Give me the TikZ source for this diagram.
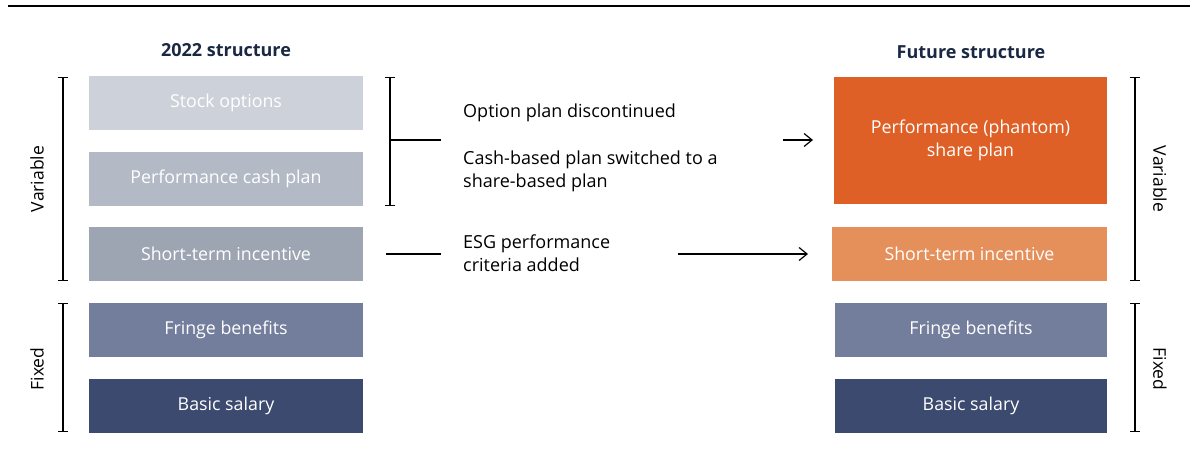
\documentclass[tikz,border=0pt]{standalone}
\usepackage{fontspec}
\setmainfont{Open Sans}
\usetikzlibrary{arrows.meta}
\definecolor{cStock}{HTML}{CDD2DA}
\definecolor{cCash}{HTML}{B3B9C5}
\definecolor{cSTI}{HTML}{9DA5B2}
\definecolor{cFringe}{HTML}{737D9C}
\definecolor{cBasic}{HTML}{3B4A6E}
\definecolor{cPhantom}{HTML}{DE6027}
\definecolor{cSTIr}{HTML}{E58F5A}
\definecolor{cTitle}{HTML}{1A2844}
\tikzset{
  blk/.style={draw=none, minimum width=274pt, minimum height=54pt, inner sep=0pt,
    text=white, font=\fontsize{17.8}{23}\selectfont, align=center},
  ttl/.style={font=\bfseries\fontsize{18}{22}\selectfont, text=cTitle},
  note/.style={font=\fontsize{18}{23.5}\selectfont, align=left, anchor=west, inner sep=0pt, text=black},
  side/.style={font=\fontsize{17.5}{21}\selectfont, inner sep=0pt},
  brk/.style={line width=1.2pt, {Bar[width=10pt]}-{Bar[width=10pt]}},
  ln/.style={line width=1.2pt},
  arr/.style={line width=1.2pt, -{Straight Barb[length=8pt,width=13pt,line width=1.2pt]}}
}
\begin{document}
\begin{tikzpicture}[x=1pt,y=-1pt]
\useasboundingbox (0,0) rectangle (1190,470);
\draw[line width=1.5pt] (8,6) -- (1190,6);
% titles
\node[ttl] (t1) at (226,50) {2022 structure};
\node[ttl] (t2) at (971,52) {Future structure};
% left blocks
\node[blk, fill=cStock] (so) at (226,103) {Stock options};
\node[blk, fill=cCash] (pc) at (226,179) {Performance cash plan};
\node[blk, fill=cSTI] (sl) at (226,254) {Short-term incentive};
\node[blk, fill=cFringe] (fl) at (226,330) {Fringe benefits};
\node[blk, fill=cBasic] (bl) at (226,405.5) {Basic salary};
% right blocks
\node[blk, fill=cPhantom, minimum width=273pt, minimum height=127pt] (ph) at (970.5,140.5) {Performance (phantom)\\share plan};
\node[blk, fill=cSTIr, minimum width=275pt] (sr) at (969.5,254) {Short-term incentive};
\node[blk, fill=cFringe, minimum width=272pt] (fr) at (971,330) {Fringe benefits};
\node[blk, fill=cBasic, minimum width=272pt] (br) at (971,405.5) {Basic salary};
% left brackets
\coordinate (lv1) at (63,77); \coordinate (lv2) at (63,281);
\coordinate (lf1) at (63,303); \coordinate (lf2) at (63,432);
\draw[brk] (lv1) -- (lv2);
\draw[brk] (lf1) -- (lf2);
\node[side, rotate=90] (lvar) at (37,179) {Variable};
\node[side, rotate=90] (lfix) at (37,369) {Fixed};
% right brackets
\coordinate (rv1) at (1135,77); \coordinate (rv2) at (1135,281);
\coordinate (rf1) at (1135,303); \coordinate (rf2) at (1135,432);
\draw[brk] (rv1) -- (rv2);
\draw[brk] (rf1) -- (rf2);
\node[side, rotate=-90] (rvar) at (1160,179) {Variable};
\node[side, rotate=-90] (rfix) at (1160,369) {Fixed};
% middle bracket
\coordinate (mb1) at (390,77); \coordinate (mb2) at (390,206);
\coordinate (mbm) at (390,140); \coordinate (mbe) at (441,140);
\draw[brk] (mb1) -- (mb2);
\draw[ln] (mbm) -- (mbe);
% notes
\node[note] (n1) at (463,113) {Option plan discontinued};
\node[note] (n2) at (463,171.5) {Cash-based plan switched to a\\share-based plan};
\node[note] (n3) at (463,253) {ESG performance\\criteria added};
% arrows
\coordinate (a1s) at (783,140);
\coordinate (a1e) at (813,140);
\draw[arr] (a1s) -- (a1e);
\coordinate (l2s) at (386,254); \coordinate (l2e) at (441,254);
\draw[ln] (l2s) -- (l2e);
\coordinate (a2s) at (678,254);
\coordinate (a2e) at (808,254);
\draw[arr] (a2s) -- (a2e);
\end{tikzpicture}
\end{document}
